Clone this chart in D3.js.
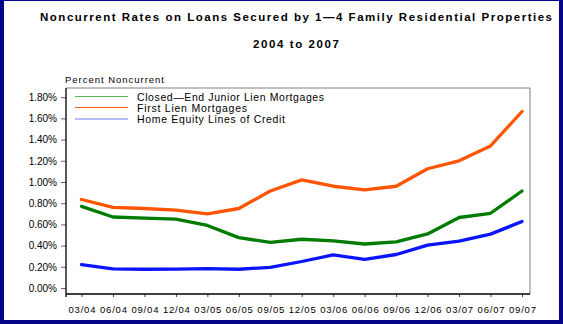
<!DOCTYPE html>
<html><head><meta charset="utf-8">
<script src="https://cdn.jsdelivr.net/npm/d3@7"></script>
<style>
html,body{margin:0;padding:0;background:#fff;}
svg{display:block;}
text{font-family:"Liberation Sans",Arial,sans-serif;fill:#000;}
</style></head>
<body><svg id="c" width="563" height="324"></svg>
<script>
const quarters = ["03/04","06/04","09/04","12/04","03/05","06/05","09/05","12/05","03/06","06/06","09/06","12/06","03/07","06/07","09/07"];
const closedEndJunior = [0.77,0.67,0.66,0.65,0.59,0.475,0.43,0.46,0.445,0.415,0.435,0.51,0.665,0.705,0.915];
const firstLien = [0.835,0.76,0.75,0.735,0.70,0.75,0.915,1.02,0.96,0.925,0.96,1.125,1.20,1.34,1.665];
const homeEquity = [0.22,0.18,0.177,0.178,0.182,0.177,0.195,0.25,0.312,0.27,0.316,0.405,0.443,0.508,0.627];
const yTicks = [0,0.2,0.4,0.6,0.8,1.0,1.2,1.4,1.6,1.8];
const seriesNames = ["Closed\u2014End Junior Lien Mortgages","First Lien Mortgages","Home Equity Lines of Credit"];
const seriesColors = ["#007c00","#ff5500","#0a14ff"];
const legendColors = ["#5fb35f","#ff5a1a","#6f7cff"];
const series = [closedEndJunior, firstLien, homeEquity];

(function(){
const svg = d3.select("#c");
// navy frame
svg.append("rect").attr("x",0).attr("y",0).attr("width",563).attr("height",324).attr("fill","#05058a");
svg.append("rect").attr("x",4).attr("y",1).attr("width",555).attr("height",319).attr("fill","#fff");

const x = d3.scalePoint().domain(quarters).range([81.5,522]);
const y = d3.scaleLinear().domain([0,1.8]).range([288,97.2]);
const pL=66, pR=530, pT=88, pB=294;

// titles
svg.append("text").attr("x",296).attr("y",21).attr("text-anchor","middle")
  .attr("font-size",11.5).attr("font-weight","bold").attr("textLength",512).attr("lengthAdjust","spacing")
  .text("Noncurrent Rates on Loans Secured by 1\u20144 Family Residential Properties");
svg.append("text").attr("x",296).attr("y",48).attr("text-anchor","middle")
  .attr("font-size",11.5).attr("font-weight","bold").attr("textLength",86).attr("lengthAdjust","spacing")
  .text("2004 to 2007");
svg.append("text").attr("x",65).attr("y",83).attr("font-size",9.5)
  .attr("textLength",99).attr("lengthAdjust","spacing").text("Percent Noncurrent");

// frame of plot
svg.append("line").attr("x1",pL).attr("x2",pR).attr("y1",pT).attr("y2",pT).attr("stroke","#808080");
svg.append("line").attr("x1",pR).attr("x2",pR).attr("y1",pT).attr("y2",pB).attr("stroke","#808080");

// y axis
const ya = svg.append("g").attr("transform",`translate(${pL},0)`)
  .call(d3.axisLeft(y).tickValues(yTicks).tickSize(5).tickPadding(4).tickFormat(d=>d3.format(".2f")(d)+"%"));
ya.select(".domain").remove();
ya.selectAll(".tick line").attr("stroke","#666");
ya.selectAll(".tick text").attr("font-size",10).attr("font-family","Liberation Sans, Arial, sans-serif").attr("fill","#000");

// x axis
const xa = svg.append("g").attr("transform",`translate(0,${pB})`)
  .call(d3.axisBottom(x).tickSize(3).tickPadding(9));
xa.select(".domain").remove();
xa.selectAll(".tick line").attr("stroke","#444");
xa.selectAll(".tick text").attr("font-size",9.5).attr("font-family","Liberation Sans, Arial, sans-serif").attr("fill","#000")
  .attr("textLength",27).attr("lengthAdjust","spacing");

svg.append("line").attr("x1",pL).attr("x2",pL).attr("y1",pT).attr("y2",pB+3).attr("stroke","#000").attr("stroke-width",1.3);
svg.append("line").attr("x1",pL).attr("x2",pR).attr("y1",pB).attr("y2",pB).attr("stroke","#000").attr("stroke-width",1.3);

// lines
const line = d3.line().x((d,i)=>x(quarters[i])).y(d=>y(d));
series.forEach((s,k)=>{
  svg.append("path").datum(s).attr("d",line).attr("fill","none")
    .attr("stroke",seriesColors[k]).attr("stroke-width",3.3).attr("stroke-linejoin","round").attr("stroke-linecap","round");
});

// legend
const legY=[96.5,107.5,119];
const legLen=[187,110,148];
seriesNames.forEach((n,k)=>{
  svg.append("line").attr("x1",75).attr("x2",128).attr("y1",legY[k]).attr("y2",legY[k]).attr("stroke",legendColors[k]).attr("stroke-width",1.2);
  svg.append("text").attr("x",137).attr("y",legY[k]+4).attr("font-size",10.5)
    .attr("textLength",legLen[k]).attr("lengthAdjust","spacing").text(n);
});
})();
</script></body></html>
